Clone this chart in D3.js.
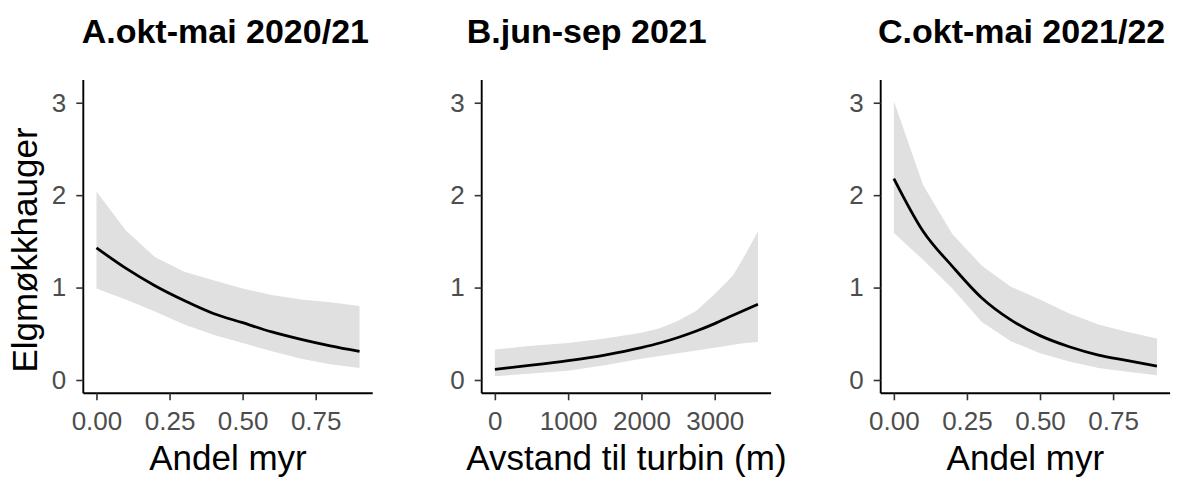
<!DOCTYPE html>
<html>
<head>
<meta charset="utf-8">
<script src="https://cdn.jsdelivr.net/npm/d3@7"></script>
<style>
  body { margin: 0; background: #fff; }
  text { font-family: "Liberation Sans", Arial, sans-serif; }
</style>
</head>
<body>
<script>
// data
let titles = ["A.okt-mai 2020/21", "B.jun-sep 2021", "C.okt-mai 2021/22"]
let xTitles = ["Andel myr", "Avstand til turbin (m)", "Andel myr"]
let yTitle = "Elgmøkkhauger"

let xMyr = [0, 0.1, 0.2, 0.3, 0.4, 0.5, 0.6, 0.7, 0.8, 0.9]
let xDist = [0, 500, 1000, 1500, 2000, 2250, 2500, 2750, 3000, 3250, 3420, 3590]

let fitA = [1.43, 1.21, 1.02, 0.86, 0.72, 0.62, 0.52, 0.44, 0.37, 0.31]
let upA = [2.04, 1.62, 1.33, 1.17, 1.08, 0.99, 0.92, 0.87, 0.84, 0.80]
let loA = [0.99, 0.87, 0.74, 0.60, 0.49, 0.40, 0.31, 0.23, 0.17, 0.13]

let fitB = [0.115, 0.16, 0.21, 0.27, 0.35, 0.40, 0.46, 0.53, 0.61, 0.70, 0.76, 0.82]
let upB = [0.33, 0.37, 0.40, 0.45, 0.51, 0.56, 0.64, 0.75, 0.93, 1.13, 1.36, 1.61]
let loB = [0.04, 0.07, 0.10, 0.16, 0.23, 0.26, 0.29, 0.32, 0.35, 0.38, 0.40, 0.41]

let fitC = [2.18, 1.61, 1.23, 0.89, 0.65, 0.48, 0.36, 0.27, 0.21, 0.15]
let upC = [3.02, 2.11, 1.58, 1.24, 1.01, 0.87, 0.72, 0.60, 0.52, 0.45]
let loC = [1.59, 1.30, 0.99, 0.63, 0.42, 0.29, 0.20, 0.13, 0.09, 0.05]

let ticksMyr = [0, 0.25, 0.5, 0.75]
let ticksDist = [0, 1000, 2000, 3000]
let ticksY = [0, 1, 2, 3]

let panels = [
    {x: xMyr, fit: fitA, up: upA, lo: loA, ticks: ticksMyr, fmt: d3.format(".2f")},
    {x: xDist, fit: fitB, up: upB, lo: loB, ticks: ticksDist, fmt: d3.format("d")},
    {x: xMyr, fit: fitC, up: upC, lo: loC, ticks: ticksMyr, fmt: d3.format(".2f")}
]

let w = 1180, h = 477
let svg = d3.select("body").append("svg")
    .attr("width", w)
    .attr("height", h)

// layout
let panelLeft = [83.3, 481.7, 880.7]
let panelW = 289.4
let plotTop = 80, plotBottom = 393.3
let titleX = [81.7, 466.7, 878]

let y = d3.scaleLinear().domain([-0.144, 3.246]).range([plotBottom, plotTop])

panels.forEach((p, i) => {
    let lo = d3.min(p.x), hi = d3.max(p.x)
    let pad = (hi - lo) * 0.05
    let x = d3.scaleLinear()
        .domain([lo - pad, hi + pad])
        .range([panelLeft[i], panelLeft[i] + panelW])

    let g = svg.append("g")
    let rows = p.x.map((v, j) => ({x: v, fit: p.fit[j], up: p.up[j], lo: p.lo[j]}))

    // ribbon
    g.append("path")
        .datum(rows)
        .attr("fill", "#e0e0e0")
        .attr("d", d3.area().x(d => x(d.x)).y0(d => y(d.lo)).y1(d => y(d.up)))

    // fitted line
    g.append("path")
        .datum(rows)
        .attr("fill", "none")
        .attr("stroke", "#000")
        .attr("stroke-width", 2.8)
        .attr("stroke-linejoin", "round")
        .attr("d", d3.line().curve(d3.curveMonotoneX).x(d => x(d.x)).y(d => y(d.fit)))

    // axes
    let xAxis = g.append("g")
        .attr("transform", `translate(0,${plotBottom})`)
        .call(d3.axisBottom(x).tickValues(p.ticks).tickFormat(p.fmt).tickSize(7).tickPadding(11))
    let yAxis = g.append("g")
        .attr("transform", `translate(${panelLeft[i]},0)`)
        .call(d3.axisLeft(y).tickValues(ticksY).tickFormat(d3.format("d")).tickSize(7).tickPadding(10))

    for (let a of [xAxis, yAxis]) {
        a.select(".domain").attr("stroke", "#000").attr("stroke-width", 1.9)
            .attr("d", a === xAxis
                ? `M${panelLeft[i]},0H${panelLeft[i] + panelW}`
                : `M0,${plotTop}V${plotBottom}`)
        a.selectAll(".tick line").attr("stroke", "#333").attr("stroke-width", 1.6)
        a.selectAll(".tick text")
            .attr("fill", "#4d4d4d")
            .style("font-size", "26px")
    }

    // titles
    svg.append("text")
        .attr("x", titleX[i])
        .attr("y", 43.3)
        .style("font-size", "34px")
        .style("font-weight", "bold")
        .attr("fill", "#000")
        .text(titles[i])

    svg.append("text")
        .attr("x", panelLeft[i] + panelW / 2)
        .attr("y", 469.5)
        .attr("text-anchor", "middle")
        .style("font-size", "35px")
        .attr("fill", "#000")
        .text(xTitles[i])
})

svg.append("text")
    .attr("transform", "translate(36.7,250) rotate(-90)")
    .attr("text-anchor", "middle")
    .style("font-size", "35px")
    .attr("fill", "#000")
    .text(yTitle)
</script>
</body>
</html>
